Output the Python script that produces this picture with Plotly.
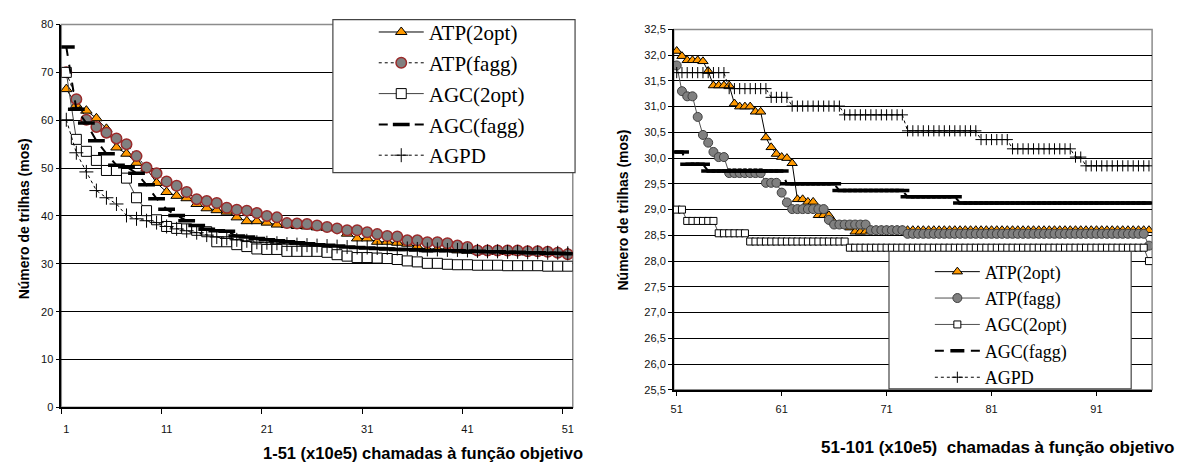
import plotly.graph_objects as go

# ---------------- data ----------------
series_names = ["ATP(2opt)", "ATP(fagg)", "AGC(2opt)", "AGC(fagg)", "AGPD"]

# left panel: calls 1..51 (x10e5)
left_x = list(range(1, 52))
left_atp_2opt = [66.5, 63.2, 62.0, 60.4, 58.2, 54.3, 53.0, 51.1, 49.9, 46.9,
                 45.0, 44.2, 43.7, 42.5, 41.6, 41.2, 40.9, 39.7, 38.9, 38.9,
                 38.6, 38.2, 38.1, 37.9, 37.8, 37.6, 37.5, 37.4, 36.3, 35.3,
                 35.3, 34.6, 34.6, 34.4, 34.2, 33.6, 33.0, 33.1, 33.1, 32.8,
                 32.7, 32.6, 32.6, 32.5, 32.5, 32.4, 32.4, 32.4, 32.3, 32.3, 32.3]
left_atp_fagg = [70.0, 64.4, 60.1, 58.6, 57.4, 56.2, 55.0, 52.5, 50.1, 48.9,
                 47.2, 46.3, 45.0, 43.5, 43.1, 42.7, 41.7, 41.3, 41.1, 40.6,
                 40.0, 39.7, 38.5, 38.4, 38.3, 38.0, 37.7, 37.4, 37.0, 37.0,
                 36.6, 36.2, 35.8, 35.7, 34.9, 34.9, 34.5, 34.5, 34.3, 33.8,
                 33.5, 32.8, 32.8, 32.8, 32.8, 32.8, 32.6, 32.6, 32.5, 32.3, 32.0]
left_agc_2opt = [70.0, 56.0, 53.5, 51.6, 49.5, 49.5, 47.9, 43.8, 41.1, 39.2,
                 37.8, 37.4, 37.3, 37.0, 36.7, 34.6, 34.6, 34.0, 33.6, 33.1,
                 33.0, 33.0, 32.6, 32.6, 32.6, 32.6, 32.4, 31.9, 31.6, 31.3,
                 31.3, 31.2, 31.1, 30.9, 30.6, 30.4, 30.1, 30.1, 29.9, 29.8,
                 29.8, 29.7, 29.7, 29.7, 29.6, 29.6, 29.6, 29.6, 29.5, 29.5, 29.5]
left_agc_fagg = [75.3, 62.3, 59.4, 55.7, 53.0, 50.6, 50.3, 48.9, 46.5, 43.6,
                 41.4, 40.1, 39.0, 38.0, 37.2, 36.9, 36.8, 35.8, 35.6, 35.3,
                 35.0, 34.8, 34.6, 34.4, 34.2, 34.0, 33.9, 33.7, 33.5, 33.4,
                 33.3, 33.2, 33.1, 33.0, 33.0, 32.9, 32.8, 32.8, 32.7, 32.7,
                 32.6, 32.6, 32.5, 32.5, 32.4, 32.4, 32.3, 32.3, 32.2, 32.2, 32.1]
left_agpd = [60.1, 53.2, 49.2, 45.3, 43.8, 42.5, 40.1, 39.4, 39.0, 38.6,
             37.8, 37.3, 36.9, 36.5, 36.0, 35.6, 35.3, 35.0, 34.8, 34.5,
             34.4, 34.3, 34.1, 34.0, 33.9, 33.8, 33.7, 33.6, 33.5, 33.4,
             33.4, 33.3, 33.3, 33.2, 33.2, 33.1, 33.0, 33.0, 32.9, 32.9,
             32.8, 32.7, 32.6, 32.6, 32.5, 32.5, 32.4, 32.4, 32.3, 32.3, 32.2]

# right panel: calls 51..96 (x10e5), half-step samples
right_x = [51.0, 51.5, 52.0, 52.5, 53.0, 53.5, 54.0, 54.5, 55.0, 55.5,
           56.0, 56.5, 57.0, 57.5, 58.0, 58.5, 59.0, 59.5, 60.0, 60.5,
           61.0, 61.5, 62.0, 62.5, 63.0, 63.5, 64.0, 64.5, 65.0, 65.5,
           66.0, 66.5, 67.0, 67.5, 68.0, 68.5, 69.0, 69.5, 70.0, 70.5,
           71.0, 71.5, 72.0, 72.5, 73.0, 73.5, 74.0, 74.5, 75.0, 75.5,
           76.0, 76.5, 77.0, 77.5, 78.0, 78.5, 79.0, 79.5, 80.0, 80.5,
           81.0, 81.5, 82.0, 82.5, 83.0, 83.5, 84.0, 84.5, 85.0, 85.5,
           86.0, 86.5, 87.0, 87.5, 88.0, 88.5, 89.0, 89.5, 90.0, 90.5,
           91.0, 91.5, 92.0, 92.5, 93.0, 93.5, 94.0, 94.5, 95.0, 95.5,
           96.0]
right_atp_2opt = [32.08, 31.98, 31.90, 31.90, 31.90, 31.88, 31.69, 31.41, 31.41, 31.41,
                  31.41, 31.06, 31.00, 31.00, 31.00, 30.90, 30.90, 30.40, 30.21, 30.08,
                  30.02, 30.00, 29.90, 29.20, 29.20, 29.15, 29.15, 28.89, 28.89, 28.89,
                  28.75, 28.70, 28.70, 28.65, 28.57, 28.57, 28.57, 28.60, 28.60, 28.60,
                  28.60, 28.60, 28.60, 28.60, 28.60, 28.60, 28.60, 28.60, 28.60, 28.60,
                  28.60, 28.60, 28.60, 28.60, 28.60, 28.60, 28.60, 28.60, 28.60, 28.60,
                  28.60, 28.60, 28.60, 28.60, 28.60, 28.60, 28.60, 28.60, 28.60, 28.60,
                  28.60, 28.60, 28.60, 28.60, 28.60, 28.60, 28.60, 28.60, 28.60, 28.60,
                  28.60, 28.60, 28.60, 28.60, 28.60, 28.60, 28.60, 28.60, 28.60, 28.60,
                  28.60]
right_atp_fagg = [31.80, 31.30, 31.20, 31.20, 30.80, 30.45, 30.30, 30.12, 30.02, 30.02,
                  29.71, 29.71, 29.71, 29.71, 29.71, 29.71, 29.71, 29.52, 29.52, 29.52,
                  29.33, 29.14, 29.01, 29.01, 29.01, 29.01, 29.01, 29.01, 29.01, 28.80,
                  28.71, 28.71, 28.71, 28.71, 28.71, 28.71, 28.71, 28.60, 28.60, 28.60,
                  28.60, 28.60, 28.60, 28.60, 28.53, 28.53, 28.53, 28.53, 28.53, 28.53,
                  28.53, 28.53, 28.53, 28.53, 28.53, 28.53, 28.53, 28.53, 28.53, 28.53,
                  28.53, 28.53, 28.53, 28.53, 28.53, 28.53, 28.53, 28.53, 28.53, 28.53,
                  28.53, 28.53, 28.53, 28.53, 28.53, 28.53, 28.53, 28.53, 28.53, 28.53,
                  28.53, 28.53, 28.53, 28.53, 28.53, 28.53, 28.53, 28.53, 28.53, 28.53,
                  28.30]
right_agc_2opt = [29.00, 29.00, 28.78, 28.78, 28.78, 28.78, 28.78, 28.78, 28.54, 28.54,
                  28.54, 28.54, 28.54, 28.54, 28.38, 28.38, 28.38, 28.38, 28.38, 28.38,
                  28.38, 28.38, 28.38, 28.38, 28.38, 28.38, 28.38, 28.38, 28.38, 28.38,
                  28.38, 28.38, 28.38, 28.26, 28.26, 28.26, 28.26, 28.26, 28.26, 28.26,
                  28.26, 28.26, 28.26, 28.26, 28.26, 28.26, 28.26, 28.26, 28.26, 28.26,
                  28.26, 28.26, 28.26, 28.26, 28.26, 28.26, 28.26, 28.26, 28.26, 28.26,
                  28.26, 28.26, 28.26, 28.26, 28.26, 28.26, 28.26, 28.26, 28.26, 28.26,
                  28.26, 28.26, 28.26, 28.26, 28.26, 28.26, 28.26, 28.26, 28.26, 28.26,
                  28.26, 28.26, 28.26, 28.26, 28.26, 28.26, 28.26, 28.26, 28.26, 28.26,
                  28.00]
right_agc_fagg = [30.12, 30.12, 29.88, 29.88, 29.88, 29.88, 29.75, 29.75, 29.75, 29.75,
                  29.75, 29.75, 29.75, 29.75, 29.75, 29.75, 29.75, 29.75, 29.75, 29.75,
                  29.75, 29.50, 29.50, 29.50, 29.50, 29.50, 29.50, 29.50, 29.50, 29.50,
                  29.50, 29.37, 29.37, 29.37, 29.37, 29.37, 29.37, 29.37, 29.37, 29.37,
                  29.37, 29.37, 29.37, 29.37, 29.25, 29.25, 29.25, 29.25, 29.25, 29.25,
                  29.25, 29.25, 29.25, 29.25, 29.13, 29.13, 29.13, 29.13, 29.13, 29.13,
                  29.13, 29.13, 29.13, 29.13, 29.13, 29.13, 29.13, 29.13, 29.13, 29.13,
                  29.13, 29.13, 29.13, 29.13, 29.13, 29.13, 29.13, 29.13, 29.13, 29.13,
                  29.13, 29.13, 29.13, 29.13, 29.13, 29.13, 29.13, 29.13, 29.13, 29.13,
                  29.13]
right_agpd = [31.66, 31.66, 31.66, 31.66, 31.66, 31.66, 31.66, 31.66, 31.66, 31.66,
              31.35, 31.35, 31.35, 31.35, 31.35, 31.35, 31.35, 31.35, 31.18, 31.18,
              31.18, 31.18, 31.01, 31.01, 31.01, 31.01, 31.01, 31.01, 31.01, 31.01,
              31.01, 31.01, 30.84, 30.84, 30.84, 30.84, 30.84, 30.84, 30.84, 30.84,
              30.84, 30.84, 30.84, 30.84, 30.53, 30.53, 30.53, 30.53, 30.53, 30.53,
              30.53, 30.53, 30.53, 30.53, 30.53, 30.53, 30.53, 30.53, 30.36, 30.36,
              30.36, 30.36, 30.36, 30.36, 30.18, 30.18, 30.18, 30.18, 30.18, 30.18,
              30.18, 30.18, 30.18, 30.18, 30.18, 30.18, 30.02, 30.02, 29.85, 29.85,
              29.85, 29.85, 29.85, 29.85, 29.85, 29.85, 29.85, 29.85, 29.85, 29.85,
              29.85]

left_xticks = [1, 11, 21, 31, 41, 51]
left_yticks = [0, 10, 20, 30, 40, 50, 60, 70, 80]
right_xticks = [51, 61, 71, 81, 91]
right_yticks = [25.5, 26.0, 26.5, 27.0, 27.5, 28.0, 28.5, 29.0, 29.5, 30.0, 30.5, 31.0, 31.5, 32.0, 32.5]

# ---------------- figure ----------------
W, H = 1184, 465
ORANGE = "#FF9900"
GREY = "#808080"


def px_x(p):
    return p / W


def px_y(p):
    return 1 - p / H


fig = go.Figure()

left_values = [left_atp_2opt, left_atp_fagg, left_agc_2opt, left_agc_fagg, left_agpd]
right_values = [right_atp_2opt, right_atp_fagg, right_agc_2opt, right_agc_fagg, right_agpd]

left_styles = [
    dict(line=dict(color="black", width=1),
         marker=dict(symbol="triangle-up", size=10, color=ORANGE, line=dict(color="black", width=1))),
    dict(line=dict(color="black", width=1, dash="dot"),
         marker=dict(symbol="circle", size=10.5, color=GREY, line=dict(color="#9b2a2a", width=1.5))),
    dict(line=dict(color="#404040", width=1),
         marker=dict(symbol="square", size=10, color="white", line=dict(color="black", width=1))),
    dict(line=dict(color="black", width=2, dash="dash"),
         marker=dict(symbol="line-ew", size=12, color="black", line=dict(color="black", width=3.5))),
    dict(line=dict(color="black", width=1, dash="dot"),
         marker=dict(symbol="cross-thin", size=10, color="black", line=dict(color="black", width=1))),
]
right_styles = [
    dict(line=dict(color="black", width=1),
         marker=dict(symbol="triangle-up", size=9, color=ORANGE, line=dict(color="black", width=1))),
    dict(line=dict(color="#505050", width=1),
         marker=dict(symbol="circle", size=9, color=GREY, line=dict(color="#404040", width=1))),
    dict(line=dict(color="#505050", width=1),
         marker=dict(symbol="square", size=7, color="white", line=dict(color="black", width=1))),
    dict(line=dict(color="black", width=2, dash="dash"),
         marker=dict(symbol="line-ew", size=10, color="black", line=dict(color="black", width=3.5))),
    dict(line=dict(color="black", width=1, dash="dot"),
         marker=dict(symbol="cross-thin", size=8, color="black", line=dict(color="black", width=1))),
]

for name, vals, st in zip(series_names, left_values, left_styles):
    fig.add_trace(go.Scatter(x=left_x, y=vals, name=name, mode="lines+markers",
                             xaxis="x", yaxis="y", legend="legend", legendgroup="L" + name,
                             **st))
for name, vals, st in zip(series_names, right_values, right_styles):
    fig.add_trace(go.Scatter(x=right_x, y=vals, name=name, mode="lines+markers",
                             xaxis="x2", yaxis="y2", legend="legend2", legendgroup="R" + name,
                             **st))

tick_font = dict(family="Liberation Sans, Arial, sans-serif", size=11, color="#111")
ytitle_font = dict(family="Liberation Sans, Arial, sans-serif", size=14, color="black")
legend_font_family = "Liberation Serif, Times New Roman, serif"

# plot-area geometry (pixels)
L_X0, L_X1, L_Y0, L_Y1 = 58.5, 571.7, 19, 412
R_X0, R_X1, R_Y0, R_Y1 = 673, 1153, 24, 394

fig.update_layout(
    width=W, height=H, margin=dict(l=0, r=0, t=0, b=0),
    paper_bgcolor="white", plot_bgcolor="white",
    separators=",.",
    showlegend=True,
    xaxis=dict(domain=[px_x(L_X0), px_x(L_X1)], range=[0.5, 51.5],
               tickvals=left_xticks, ticks="", showgrid=False, zeroline=False,
               showline=True, linecolor="black", linewidth=1.5, tickfont=tick_font,
               ticklabelstandoff=11,
               minor=dict(tick0=0.5, dtick=10, ticks="outside", ticklen=5,
                          tickcolor="black", showgrid=False)),
    yaxis=dict(domain=[px_y(L_Y1), px_y(L_Y0)], range=[0, 80],
               tickvals=left_yticks, ticks="outside", ticklen=4, tickcolor="black",
               showgrid=True, gridcolor="black", gridwidth=1, zeroline=False,
               showline=True, linecolor="black", linewidth=1.5, tickfont=tick_font),
    xaxis2=dict(domain=[px_x(R_X0), px_x(R_X1)], range=[50.715, 96.3], anchor="y2",
                tickvals=right_xticks, ticks="outside", ticklen=4, tickcolor="black",
                showgrid=False, zeroline=False, showline=True, linecolor="black",
                linewidth=1.5, tickfont=tick_font, ticklabelstandoff=4),
    yaxis2=dict(domain=[px_y(R_Y1), px_y(R_Y0)], range=[25.5, 32.5], anchor="x2",
                tickvals=right_yticks, tickformat=".1f", ticks="outside", ticklen=4,
                tickcolor="black", showgrid=True, gridcolor="black", gridwidth=1,
                zeroline=False, showline=True, linecolor="black", linewidth=1.5,
                tickfont=tick_font),
    legend=dict(x=px_x(372), y=px_y(6), xanchor="left", yanchor="top",
                bgcolor="rgba(0,0,0,0)", borderwidth=0,
                font=dict(family=legend_font_family, size=21, color="black"),
                traceorder="grouped", tracegroupgap=0.5, itemwidth=45),
    legend2=dict(x=px_x(930), y=px_y(254), xanchor="left", yanchor="top",
                 bgcolor="rgba(0,0,0,0)", borderwidth=0,
                 font=dict(family=legend_font_family, size=18, color="black"),
                 traceorder="grouped", tracegroupgap=0, itemwidth=45),
)

shapes = []
# plot-area frames (grey top/right edges)
for x0, x1, y0, y1 in [(L_X0, L_X1, L_Y0, L_Y1), (R_X0, R_X1, R_Y0, R_Y1)]:
    shapes.append(dict(type="rect", xref="paper", yref="paper",
                       x0=px_x(x0), x1=px_x(x1), y0=px_y(y1), y1=px_y(y0),
                       line=dict(color="#8c8c8c", width=1.5), layer="below"))
# legend boxes
for x0, x1, y0, y1 in [(331, 574, 14, 171), (889, 1132, 252, 393)]:
    shapes.append(dict(type="rect", xref="paper", yref="paper",
                       x0=px_x(x0), x1=px_x(x1), y0=px_y(y1), y1=px_y(y0),
                       line=dict(color="#444444", width=1.2), fillcolor="white",
                       layer="above"))
fig.update_layout(shapes=shapes)

annotations = [
    dict(text="<b>Número de trilhas (mos)</b>", textangle=-90,
         x=px_x(21), y=px_y(218), xref="paper", yref="paper",
         showarrow=False, font=ytitle_font, xanchor="center", yanchor="middle"),
    dict(text="<b>1-51 (x10e5) chamadas à função objetivo</b>",
         x=px_x(421), y=px_y(459), xref="paper", yref="paper",
         showarrow=False, font=dict(ytitle_font, size=16.5),
         xanchor="center", yanchor="middle"),
    dict(text="<b>Número de trilhas (mos)</b>", textangle=-90,
         x=px_x(622), y=px_y(209), xref="paper", yref="paper",
         showarrow=False, font=ytitle_font, xanchor="center", yanchor="middle"),
    dict(text="<b>51-101 (x10e5)\u00a0 chamadas à função objetivo</b>",
         x=px_x(998), y=px_y(453), xref="paper", yref="paper",
         showarrow=False, font=dict(ytitle_font, size=17),
         xanchor="center", yanchor="middle"),
]
fig.update_layout(annotations=annotations)

fig.write_html("out.html")
